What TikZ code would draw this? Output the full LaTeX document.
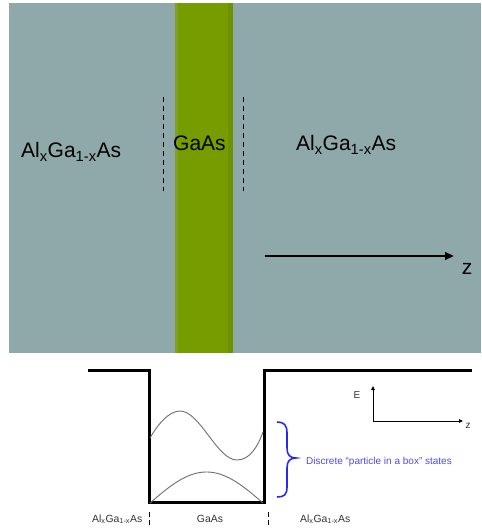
\documentclass[tikz,border=0pt]{standalone}
\usepackage{fontspec}
\setmainfont{Liberation Sans}
\usetikzlibrary{arrows.meta}
\definecolor{bggray}{HTML}{8FA9AB}
\definecolor{gaasgreen}{HTML}{769C00}
\definecolor{gaasdark}{HTML}{6C9200}
\definecolor{gaaslight}{HTML}{7FA020}
\definecolor{curvegray}{HTML}{6E6E6E}
\definecolor{braceblue}{HTML}{2828F0}
\definecolor{labelblue}{HTML}{4A4AF5}
\definecolor{txtgray}{HTML}{333333}
\newcommand\algaas{Al\textsubscript{x}Ga\textsubscript{1-x}As}
\tikzset{
  biglabel/.style={font=\fontsize{21}{24}\selectfont, inner sep=0pt, text=black},
  smalllabel/.style={font=\fontsize{10.4}{12}\selectfont, inner sep=0pt, text=txtgray},
  wellline/.style={line width=3pt, black, line join=miter},
  statecurve/.style={curvegray, line width=0.9pt},
  interface/.style={black, line width=0.9pt, dash pattern=on 5pt off 4pt},
  smallsep/.style={black, line width=0.7pt, dash pattern=on 5pt off 3pt},
}
\begin{document}
\begin{tikzpicture}[x=1pt,y=-1pt]
\useasboundingbox (0,0) rectangle (481,529);
% top panel
\fill[bggray] (9,3) rectangle (481,353);
\fill[gaasgreen] (175,3) rectangle (233,353);
\fill[gaaslight] (175,3) rectangle (178,353);
\fill[gaasdark] (228,3) rectangle (233,353);
\coordinate (dl1) at (163,97); \coordinate (dl2) at (163,191);
\coordinate (dr1) at (243,97); \coordinate (dr2) at (243,191);
\draw[interface] (dl1) -- (dl2);
\draw[interface] (dr1) -- (dr2);
\node[biglabel, anchor=base west] (lal) at (21,158) {\algaas};
\node[biglabel, anchor=base west] (mga) at (173,151) {GaAs};
\node[biglabel, anchor=base west] (ral) at (296,151) {\algaas};
\coordinate (zs) at (265,256);
\coordinate (ze) at (454,256);
\draw[line width=2.4pt, -{Triangle[length=9pt,width=7.5pt]}] (zs) -- (ze);
\node[biglabel, anchor=base] (zlab) at (467,274) {z};
% bottom panel: well
\draw[wellline] (88,370) -- (149,370) -- (149,502) -- (264.5,502) -- (264.5,370) -- (472,370);
% states
\draw[statecurve, variable=\t, domain=0:1, samples=60] plot ({150+113*\t}, {503 - 31*sin(180*\t)});
\draw[statecurve] (150,438) .. controls (158,424) and (169,411) .. (180,411)
  .. controls (200,411) and (217,460) .. (237,460)
  .. controls (250,460) and (258,446) .. (263,432);
% brace
\draw[braceblue, line width=1.6pt] (277,422) .. controls (284,422) and (287,425) .. (287,433)
  -- (287,448) .. controls (287,455) and (290,458) .. (296,458)
  .. controls (290,458) and (287,461) .. (287,468)
  -- (287,487) .. controls (287,495) and (284,497) .. (277,497);
\node[smalllabel, text=labelblue, font=\fontsize{10}{12}\selectfont, anchor=base west] (states) at (306,464) {Discrete “particle in a box” states};
% axes
\coordinate (ax0) at (373,421);
\coordinate (axE) at (373,386);
\coordinate (axz) at (463,421);
\draw[line width=0.9pt, -{Triangle[length=4pt,width=3.5pt]}] (ax0) -- (axE);
\draw[line width=0.9pt, -{Triangle[length=4pt,width=3.5pt]}] (ax0) -- (axz);
\node[smalllabel, font=\fontsize{10}{12}\selectfont] (elab) at (357,395) {E};
\node[smalllabel, font=\fontsize{10}{12}\selectfont] (zlab2) at (468,426) {z};
% bottom labels
\node[smalllabel, anchor=base west] (bl) at (92,522) {\algaas};
\node[smalllabel, anchor=base] (bm) at (210,522) {GaAs};
\node[smalllabel, anchor=base west] (br) at (300,522) {\algaas};
\coordinate (s1a) at (149,512); \coordinate (s1b) at (149,527);
\coordinate (s2a) at (268,512); \coordinate (s2b) at (268,527);
\draw[smallsep] (s1a) -- (s1b);
\draw[smallsep] (s2a) -- (s2b);
\end{tikzpicture}
\end{document}
